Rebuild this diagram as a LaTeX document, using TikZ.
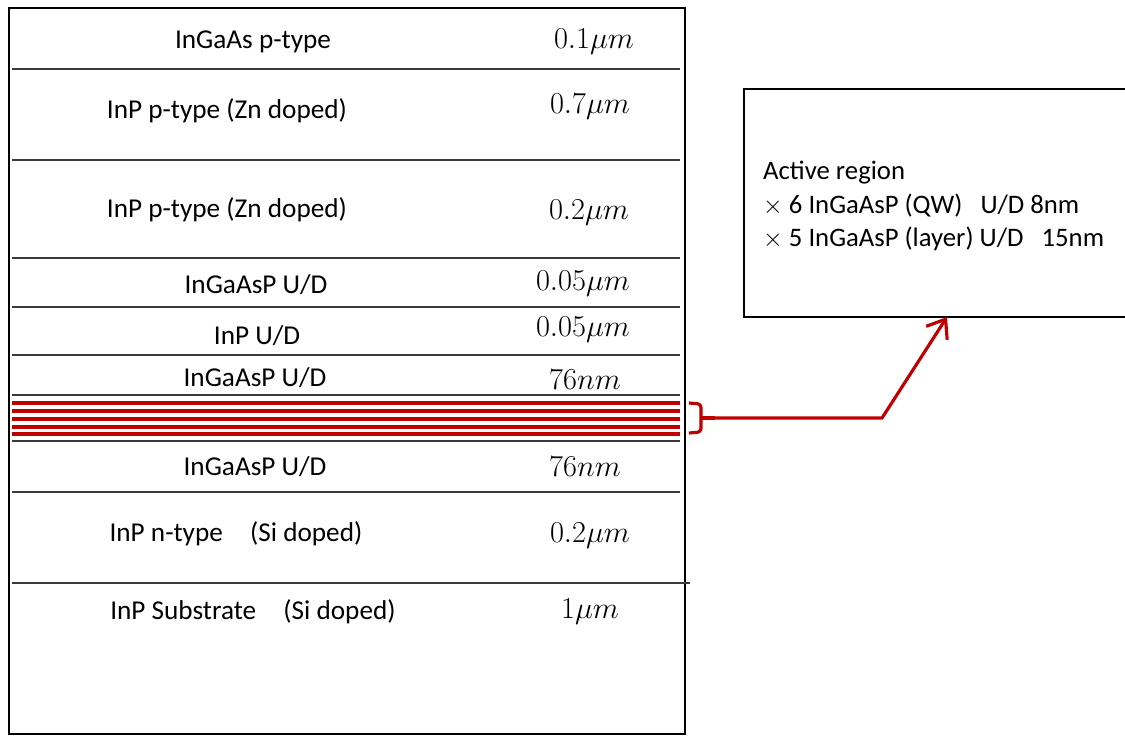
\documentclass[tikz,border=0pt]{standalone}
\usepackage{fontspec}
\setmainfont{Carlito}
\usepackage{tikz}
\usetikzlibrary{arrows.meta,positioning}
\definecolor{QWred}{HTML}{C00000}
\definecolor{Edge}{HTML}{3A3A3A}

\tikzset{
  layer/.style={font=\fontsize{15.5}{18}\selectfont},
  depth/.style={font=\fontsize{16}{18}\selectfont},
  sep/.style={Edge,line width=0.8pt},
}

\begin{document}
\begin{tikzpicture}[x=0.02cm,y=-0.02cm]
  \useasboundingbox (0,0) rectangle (1125,735);
  \clip (0,0) rectangle (1125,735);
  % stack
  \draw[line width=1.1pt] (9,8) rectangle (685,734);
  \foreach \yy in {69,160,258,307,355,395,441,492} \draw[sep] (12,\yy) -- (680,\yy);
  \draw[sep] (12,583) -- (690,583);
  \foreach \yy in {403,411,419,427,434} \draw[QWred,line width=2.3pt] (12,\yy) -- (680,\yy);
  % labels
  \node[layer] (l1) at (253,42) {InGaAs p-type};
  \node[depth] (t1) at (594,42) {$0.1\mu m$};
  \node[layer] (l2) at (227,111) {InP p-type (Zn doped)};
  \node[depth] (t2) at (590,107) {$0.7\mu m$};
  \node[layer] (l3) at (227,210) {InP p-type (Zn doped)};
  \node[depth] (t3) at (589,213) {$0.2\mu m$};
  \node[layer] (l4) at (256,285) {InGaAsP U/D};
  \node[depth] (t4) at (583,284) {$0.05\mu m$};
  \node[layer] (l5) at (257,336) {InP U/D};
  \node[depth] (t5) at (583,330) {$0.05\mu m$};
  \node[layer] (l6) at (255,378) {InGaAsP U/D};
  \node[depth] (t6) at (585,380) {$76nm$};
  \node[layer] (l7) at (255,467) {InGaAsP U/D};
  \node[depth] (t7) at (585,467) {$76nm$};
  \node[layer] (l8) at (236,534) {InP n-type\quad(Si doped)};
  \node[depth] (t8) at (590,536) {$0.2\mu m$};
  \node[layer] (l9) at (253,612) {InP Substrate\quad(Si doped)};
  \node[depth] (t9) at (590,612) {$1\mu m$};
  % active region box
  \draw[line width=1.1pt] (744,89) rectangle (1140,317);
  \coordinate (boxin) at (947,317);
  \node[font=\fontsize{15.2}{19}\selectfont,align=left,anchor=west] (info) at (757,206)
    {Active region\\$\times$ 6 InGaAsP (QW)\ \ \ U/D 8nm\\$\times$ 5 InGaAsP (layer) U/D\ \ \ 15nm};
  % bracket and arrow
  \coordinate (brk) at (715,418);
  \coordinate (bend) at (882,418);
  \draw[QWred,line width=1.8pt,rounded corners=2pt] (689,403) -- (701,404) -- (701,432) -- (689,433);
  \draw[QWred,line width=1.8pt] (701,418) -- (brk);
  \draw[QWred,line width=1.8pt,-{Straight Barb[length=3.3mm,width=5mm]}] (brk) -- (bend) -- (boxin);
\end{tikzpicture}
\end{document}
